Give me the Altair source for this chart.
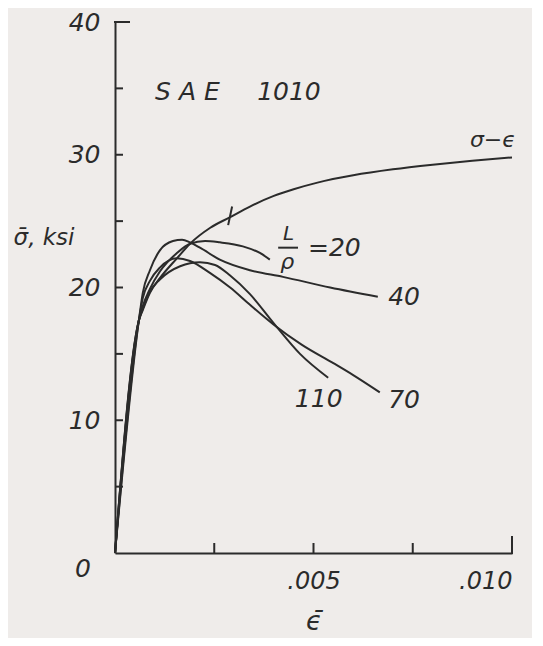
import altair as alt
import pandas as pd

# ---- data ----
eps_ss = [0, 0.0006, 0.0007, 0.00088, 0.00113, 0.00156, 0.00189, 0.0024, 0.0029, 0.0034, 0.0040, 0.0045, 0.0051, 0.0060, 0.0070, 0.0080, 0.0090, 0.0100]
sig_ss = [0, 17.5, 18.3, 19.6, 20.7, 22.2, 23.3, 24.5, 25.3, 26.1, 26.9, 27.4, 27.9, 28.45, 28.9, 29.25, 29.55, 29.8]

eps_20 = [0, 0.0006, 0.0007, 0.00088, 0.00113, 0.00156, 0.00189, 0.00227, 0.00264, 0.00322, 0.00365, 0.0039]
sig_20 = [0, 17.5, 18.6, 19.9, 21.2, 22.6, 23.3, 23.5, 23.4, 23.1, 22.6, 22.1]

eps_40 = [0, 0.0006, 0.0007, 0.00088, 0.00113, 0.00146, 0.00169, 0.00189, 0.00214, 0.00264, 0.0034, 0.00423, 0.00542, 0.00662]
sig_40 = [0, 17.5, 19.6, 21.3, 22.8, 23.5, 23.6, 23.4, 23.0, 22.1, 21.3, 20.8, 20.0, 19.3]

eps_70 = [0, 0.0006, 0.0007, 0.00088, 0.00113, 0.00156, 0.00189, 0.00239, 0.0029, 0.0034, 0.0040, 0.0047, 0.0055, 0.0060, 0.00667]
sig_70 = [0, 17.5, 19.2, 20.5, 21.5, 22.2, 22.0, 21.1, 20.0, 18.7, 17.2, 15.7, 14.3, 13.4, 12.1]

eps_110 = [0, 0.0006, 0.0007, 0.00088, 0.00113, 0.00164, 0.00214, 0.00252, 0.0029, 0.0034, 0.0040, 0.00466, 0.00537]
sig_110 = [0, 17.5, 18.4, 19.7, 20.6, 21.6, 21.9, 21.7, 20.9, 19.5, 17.3, 15.0, 13.2]

series = {"ss": (eps_ss, sig_ss), "20": (eps_20, sig_20), "40": (eps_40, sig_40),
          "70": (eps_70, sig_70), "110": (eps_110, sig_110)}

y_ticks = [5, 10, 15, 20, 25, 30, 35]
y_top_tick = [40]
x_ticks = [0.0025, 0.005, 0.0075]
x_end_tick = [0.010]

label_text = ["S A E", "1010", "σ−ϵ", "L", "ρ", "=20", "40", "70", "110"]
label_x = [0.00101, 0.00358, 0.00894, 0.00423, 0.00416, 0.00486, 0.00688, 0.00688, 0.00453]
label_y = [34.7, 34.7, 31.1, 24.0, 21.9, 23.0, 19.3, 11.5, 11.6]
label_size = [25, 25, 22, 20, 22, 25, 25, 25, 25]

frac_bar_x = [0.00411]
frac_bar_x2 = [0.00461]
frac_bar_y = [23.0]

mark_x = [0.00295]
mark_x2 = [0.00285]
mark_y = [26.1]
mark_y2 = [24.7]

# ---- tables ----
rows = []
for name, (xs, ys) in series.items():
    for i, (a, b) in enumerate(zip(xs, ys)):
        rows.append({"s": name, "x": a, "y": b, "o": i})
curves = pd.DataFrame(rows)

INK = "#2b2b2b"
FONT = "DejaVu Sans"
FW = 200

xs_scale = alt.Scale(domain=[0, 0.010], nice=False, zero=True)
ys_scale = alt.Scale(domain=[0, 40], nice=False, zero=True)

x_axis = alt.Axis(values=[0.005, 0.010], labelExpr="replace(format(datum.value, '.3f'), '0.', '.')",
                  ticks=False, grid=False, domainColor=INK, domainWidth=2,
                  labelFont=FONT, labelFontSize=24, labelFontStyle="italic", labelFontWeight=FW,
                  labelColor=INK, labelPadding=16, title="ϵ̄", titleFont=FONT, titleFontSize=26,
                  titleFontStyle="italic", titleFontWeight=FW, titleColor=INK, titlePadding=15)
y_axis = alt.Axis(values=[10, 20, 30, 40], format="d", ticks=False, grid=False,
                  domainColor=INK, domainWidth=2, labelFont=FONT, labelFontSize=25,
                  labelFontStyle="italic", labelFontWeight=FW, labelColor=INK, labelPadding=15,
                  title="σ̄, ksi", titleAngle=0, titleAlign="right", titleBaseline="middle",
                  titleX=-41, titleY=215, titleFont=FONT, titleFontSize=23, titleFontStyle="italic",
                  titleFontWeight=FW, titleColor=INK)

X = alt.X("x:Q", scale=xs_scale, axis=x_axis)
Y = alt.Y("y:Q", scale=ys_scale, axis=y_axis)

lines = alt.Chart(curves).mark_line(color=INK, strokeWidth=2, interpolate="monotone").encode(
    x=X, y=Y, detail="s:N", order="o:Q")

ytick = alt.Chart(pd.DataFrame({"y": y_ticks})).mark_rule(color=INK, strokeWidth=2).encode(
    y=Y, x=alt.value(0), x2=alt.value(8))
ytop = alt.Chart(pd.DataFrame({"y": y_top_tick})).mark_rule(color=INK, strokeWidth=2).encode(
    y=Y, x=alt.value(-1), x2=alt.value(15))
xtick = alt.Chart(pd.DataFrame({"x": x_ticks})).mark_rule(color=INK, strokeWidth=2).encode(
    x=X, y=alt.value(531), y2=alt.value(521))
xend = alt.Chart(pd.DataFrame({"x": x_end_tick})).mark_rule(color=INK, strokeWidth=2).encode(
    x=X, y=alt.value(532), y2=alt.value(514))

labels_df = pd.DataFrame({"x": label_x, "y": label_y, "t": label_text, "sz": label_size})
labels = alt.Chart(labels_df).mark_text(align="left", baseline="middle", font=FONT,
                                         fontStyle="italic", fontWeight=FW, color=INK).encode(
    x=X, y=Y, text="t:N", size=alt.Size("sz:Q", scale=None, legend=None))

frac = alt.Chart(pd.DataFrame({"x": frac_bar_x, "x2": frac_bar_x2, "y": frac_bar_y})).mark_rule(
    color=INK, strokeWidth=2).encode(x=X, x2="x2:Q", y=Y)

mark = alt.Chart(pd.DataFrame({"x": mark_x, "x2": mark_x2, "y": mark_y, "y2": mark_y2})).mark_rule(
    color=INK, strokeWidth=2).encode(x=X, x2="x2:Q", y=Y, y2="y2:Q")

zero = alt.Chart(pd.DataFrame({"x": [0], "y": [0], "t": ["0"]})).mark_text(
    align="center", baseline="middle", dx=-32, dy=16, font=FONT, fontSize=25,
    fontStyle="italic", fontWeight=FW, color=INK).encode(x=X, y=Y, text="t:N")

chart = alt.layer(lines, ytick, ytop, xtick, xend, frac, mark, labels, zero).properties(
    width=397, height=531,
    padding={"left": 107, "top": 14, "right": 20, "bottom": 85},
    autosize=alt.AutoSizeParams(type="none"),
    background="#efecea",
).configure_view(strokeWidth=0)

chart.save("out.html", embed_options={"renderer": "svg", "actions": False})
